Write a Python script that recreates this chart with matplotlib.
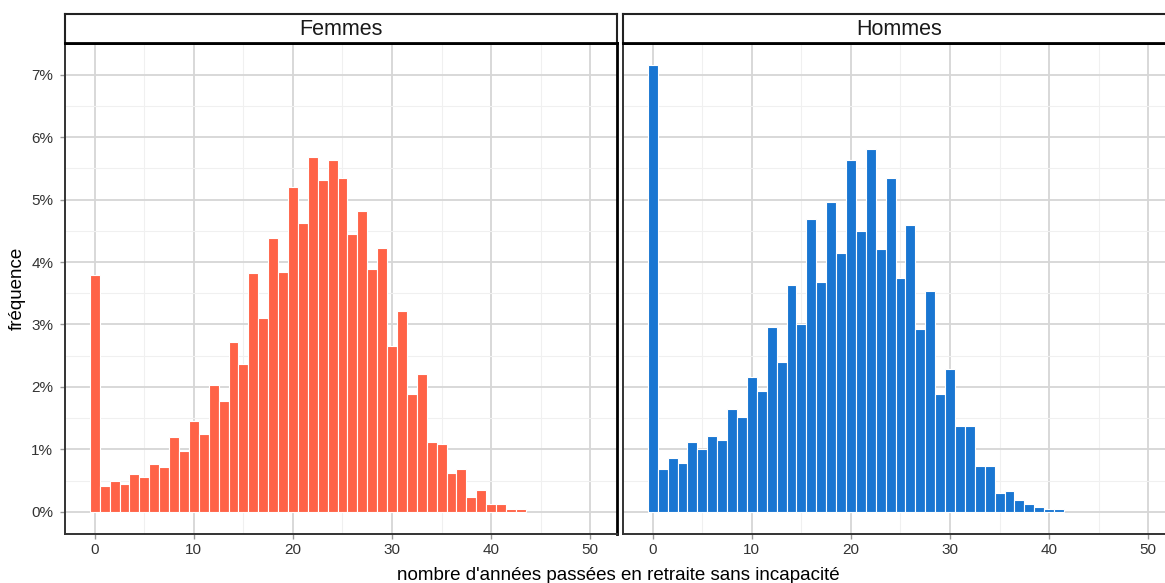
import numpy as np
import matplotlib

matplotlib.use("Agg")
import matplotlib.pyplot as plt
from matplotlib.ticker import FuncFormatter, MultipleLocator

plt.rcParams["font.family"] = ["Liberation Sans", "DejaVu Sans"]

# share of people (in %) by number of years spent in retirement without disability
femmes = [3.80, 0.42, 0.49, 0.44, 0.61, 0.56, 0.76, 0.71, 1.19, 0.97,
          1.45, 1.24, 2.03, 1.77, 2.72, 2.37, 3.82, 3.10, 4.38, 3.84,
          5.20, 4.62, 5.68, 5.32, 5.63, 5.35, 4.45, 4.82, 3.89, 4.23,
          2.66, 3.22, 1.89, 2.21, 1.12, 1.09, 0.62, 0.68, 0.23, 0.35,
          0.13, 0.13, 0.04, 0.04]
hommes = [7.15, 0.68, 0.86, 0.78, 1.12, 1.00, 1.22, 1.15, 1.65, 1.51,
          2.16, 1.94, 2.96, 2.40, 3.63, 3.00, 4.69, 3.68, 4.96, 4.14,
          5.63, 4.50, 5.81, 4.21, 5.35, 3.75, 4.59, 2.93, 3.53, 1.89,
          2.28, 1.37, 1.37, 0.73, 0.73, 0.30, 0.33, 0.18, 0.13, 0.08,
          0.04, 0.04]

panels = [("Femmes", femmes, "#FF6347"), ("Hommes", hommes, "#1976D2")]

W, H = 1165, 583
fig = plt.figure(figsize=(W / 100, H / 100), dpi=100, facecolor="white")

panel_left = [65, 623]
panel_w = 552
panel_top, panel_bottom = 43, 534
strip_top = 14


def fx(px):
    return px / W


def fy(py):
    return 1 - py / H


for i, (name, values, color) in enumerate(panels):
    left = panel_left[i]
    ax = fig.add_axes([fx(left), fy(panel_bottom), fx(panel_w),
                       (panel_bottom - panel_top) / H])
    ax.set_facecolor("white")
    x = np.arange(len(values))
    ax.bar(x, values, width=1.0, color=color, edgecolor="white",
           linewidth=0.8, zorder=2)

    ax.set_xlim(-3.0, 52.7)
    ax.set_ylim(-0.357, 7.51)
    ax.xaxis.set_major_locator(MultipleLocator(10))
    ax.xaxis.set_minor_locator(MultipleLocator(5))
    ax.yaxis.set_major_locator(MultipleLocator(1))
    ax.yaxis.set_minor_locator(MultipleLocator(0.5))
    ax.yaxis.set_major_formatter(FuncFormatter(lambda v, p: f"{v:.0f}%"))

    ax.grid(which="major", color="#d6d6d6", linewidth=1.3, zorder=0)
    ax.grid(which="minor", color="#f0f0f0", linewidth=0.8, zorder=0)
    ax.set_axisbelow(True)

    ax.tick_params(axis="both", which="minor", length=0)
    ax.tick_params(axis="x", which="major", length=3.5, width=1.0,
                   color="#999999", labelsize=11, labelcolor="#333333", pad=3)
    if i == 0:
        ax.tick_params(axis="y", which="major", length=3.5, width=1.0,
                       color="#999999", labelsize=11, labelcolor="#333333",
                       pad=5)
    else:
        ax.tick_params(axis="y", which="major", length=0, labelleft=False)

    for side in ("left", "bottom"):
        ax.spines[side].set_color("#333333")
        ax.spines[side].set_linewidth(1.4)
    ax.spines["top"].set_color("black")
    ax.spines["top"].set_linewidth(2.0)
    ax.spines["right"].set_color("black")
    ax.spines["right"].set_linewidth(2.0)

    # facet strip
    sax = fig.add_axes([fx(left), fy(panel_top), fx(panel_w),
                        (panel_top - strip_top) / H])
    sax.set_facecolor("white")
    sax.set_xticks([])
    sax.set_yticks([])
    for side in ("left", "right", "top"):
        sax.spines[side].set_color("#222222")
        sax.spines[side].set_linewidth(1.5)
    sax.spines["bottom"].set_color("black")
    sax.spines["bottom"].set_linewidth(2.0)
    sax.text(0.5, 0.45, name, ha="center", va="center", fontsize=15.5,
             color="#1a1a1a", transform=sax.transAxes)

fig.text(fx(618), fy(580), "nombre d'années passées en retraite sans incapacité",
         ha="center", va="baseline", fontsize=13.5, color="black")
fig.text(fx(17), fy(288.5), "fréquence", rotation=90, ha="center",
         va="center", fontsize=13.5, color="black")

fig.savefig("out.png", dpi=100, facecolor="white")
plt.close(fig)
